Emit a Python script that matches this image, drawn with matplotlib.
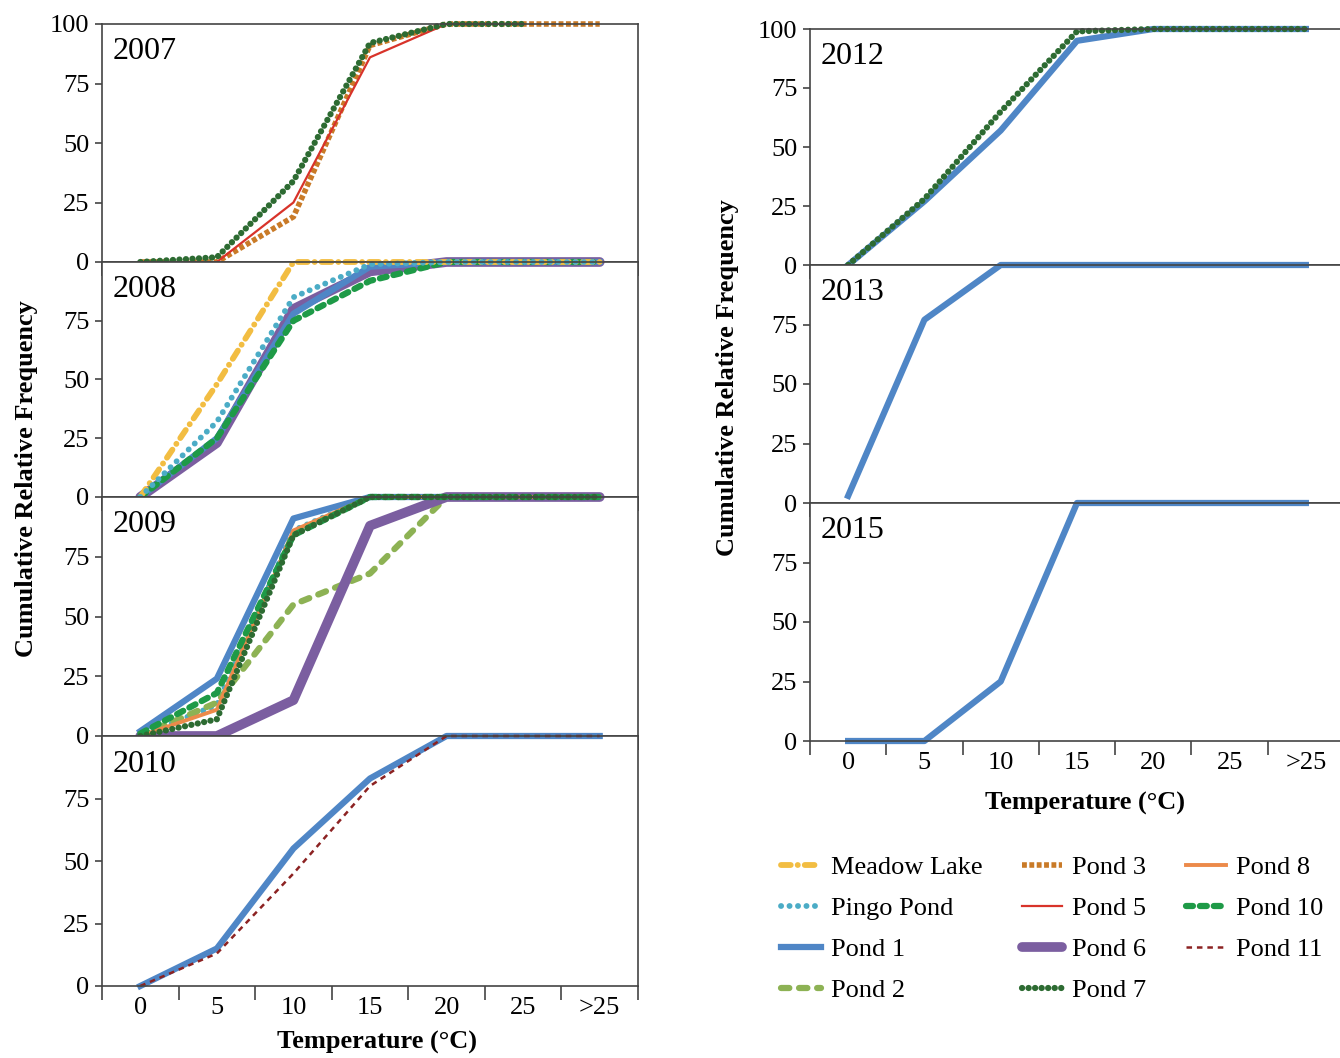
import numpy as np
import matplotlib
matplotlib.use("Agg")
import matplotlib.pyplot as plt

plt.rcParams['font.family'] = ['Liberation Serif', 'DejaVu Serif']
plt.rcParams['lines.scale_dashes'] = False

# temperature classes
temps = ['0', '5', '10', '15', '20', '25', '>25']
nan = np.nan

# cumulative relative frequency (%) per year and water body
y2007_pond3 = [0, 0, 19, 91, 100, 100, 100]
y2007_pond5 = [0, 0, 25, 86, 100, 100, nan]
y2007_pond7 = [0, 2, 34, 92, 100, 100, nan]

y2008_meadow = [0, 48, 100, 100, 100, 100, 100]
y2008_pingo = [0, 32, 85, 99, 100, 100, 100]
y2008_pond1 = [0, 25, 78, 98, 100, 100, 100]
y2008_pond6 = [0, 23, 80, 96, 100, 100, 100]
y2008_pond10 = [0, 25, 75, 92, 100, 100, 100]

y2009_pingo = [0, 13, 86, 100, 100, 100, 100]
y2009_pond1 = [2, 24, 91, 100, 100, 100, 100]
y2009_pond2 = [0, 14, 55, 68, 100, 100, 100]
y2009_pond6 = [0, 0, 15, 88, 100, 100, 100]
y2009_pond7 = [0, 7, 84, 100, 100, 100, 100]
y2009_pond8 = [0, 11, 86, 100, 100, 100, 100]
y2009_pond10 = [1, 18, 84, 100, 100, 100, 100]

y2010_pond1 = [0, 15, 55, 83, 100, 100, 100]
y2010_pond11 = [0, 13, 45, 80, 100, 100, 100]

y2012_pond1 = [0, 27, 57, 95, 100, 100, 100]
y2012_pond7 = [0, 28, 65, 99, 100, 100, 100]

y2013_pond1 = [3, 77, 100, 100, 100, 100, 100]

y2015_pond1 = [0, 0, 25, 100, 100, 100, 100]

# line style for each water body
styles = {
    'Meadow Lake': dict(color='#F2BD42', lw=4.2, dashes=(7, 5, 0.1, 5), dash_capstyle='round'),
    'Pingo Pond': dict(color='#4BACC6', lw=4.2, dashes=(0.1, 6), dash_capstyle='round'),
    'Pond 1': dict(color='#4F86C6', lw=4.5, ls='-'),
    'Pond 2': dict(color='#8DB254', lw=4.5, dashes=(6, 7), dash_capstyle='round'),
    'Pond 3': dict(color='#C97A27', lw=4.0, dashes=(3.5, 1.8)),
    'Pond 5': dict(color='#D8332A', lw=1.6, ls='-'),
    'Pond 6': dict(color='#7B5EA0', lw=7, ls='-', solid_capstyle='round'),
    'Pond 7': dict(color='#2D6B32', lw=4.5, dashes=(0.1, 4.6), dash_capstyle='round'),
    'Pond 8': dict(color='#EC8A4A', lw=2.8, ls='-'),
    'Pond 10': dict(color='#1E9A47', lw=4.5, dashes=(5, 5), dash_capstyle='round'),
    'Pond 11': dict(color='#8C2222', lw=1.8, dashes=(4, 3.5)),
}

# series per panel, in drawing order (last one on top)
panels_left = [
    ('2007', [('Pond 3', y2007_pond3), ('Pond 5', y2007_pond5), ('Pond 7', y2007_pond7)]),
    ('2008', [('Pond 6', y2008_pond6), ('Pond 1', y2008_pond1), ('Pond 10', y2008_pond10),
              ('Meadow Lake', y2008_meadow), ('Pingo Pond', y2008_pingo)]),
    ('2009', [('Pingo Pond', y2009_pingo), ('Pond 1', y2009_pond1), ('Pond 2', y2009_pond2),
              ('Pond 6', y2009_pond6), ('Pond 8', y2009_pond8), ('Pond 10', y2009_pond10),
              ('Pond 7', y2009_pond7)]),
    ('2010', [('Pond 1', y2010_pond1), ('Pond 11', y2010_pond11)]),
]
panels_right = [
    ('2012', [('Pond 1', y2012_pond1), ('Pond 7', y2012_pond7)]),
    ('2013', [('Pond 1', y2013_pond1)]),
    ('2015', [('Pond 1', y2015_pond1)]),
]

W, H = 1340, 1058
fig = plt.figure(figsize=(W / 100, H / 100), dpi=100)


def px_axes(left, top, right, bottom):
    return fig.add_axes([left / W, 1 - bottom / H, (right - left) / W, (bottom - top) / H])


def draw_panel(ax, year, series, first, last):
    x = np.arange(len(temps))
    for name, vals in series:
        ax.plot(x, vals, clip_on=False, **styles[name])
    ax.set_xlim(-0.5, len(temps) - 0.5)
    ax.set_ylim(0, 100)
    ax.set_yticks([0, 25, 50, 75, 100] if first else [0, 25, 50, 75])
    ax.tick_params(axis='y', direction='out', length=5, width=1.2, pad=4, labelsize=19, color='#444444')
    ax.set_xticks(np.arange(len(temps) + 1) - 0.5)
    ax.set_xticklabels([])
    ax.tick_params(axis='x', which='major', direction='out', length=10, width=1.2, color='#444444')
    ax.set_xticks(x, minor=True)
    if last:
        ax.set_xticklabels(temps, minor=True)
    ax.tick_params(axis='x', which='minor', length=0, pad=8, labelsize=19)
    for sp in ax.spines.values():
        sp.set_color('#444444')
        sp.set_linewidth(1.2)
    ax.text(0.02, 0.885, year, transform=ax.transAxes, fontsize=23, va='center', ha='left')


# left column 2007-2010
left_rows = [(24, 262), (262, 497), (497, 736), (736, 986)]
for i, ((year, series), (top, bottom)) in enumerate(zip(panels_left, left_rows)):
    ax = px_axes(102, top, 638, bottom)
    draw_panel(ax, year, series, i == 0, i == len(panels_left) - 1)

# right column 2012-2015
right_rows = [(29, 265), (265, 503), (503, 741)]
for i, ((year, series), (top, bottom)) in enumerate(zip(panels_right, right_rows)):
    ax = px_axes(810, top, 1344, bottom)
    draw_panel(ax, year, series, i == 0, i == len(panels_right) - 1)

lab = dict(fontsize=19, fontweight='bold')
fig.text(27 / W, 1 - 479 / H, 'Cumulative Relative Frequency', rotation=90, ha='center', va='center', **lab)
fig.text(728 / W, 1 - 378 / H, 'Cumulative Relative Frequency', rotation=90, ha='center', va='center', **lab)
fig.text(377 / W, 1 - 1042 / H, 'Temperature (°C)', ha='center', va='center', **lab)
fig.text(1085 / W, 1 - 803 / H, 'Temperature (°C)', ha='center', va='center', **lab)

# legend of all water bodies
names = list(styles.keys())
handles = [plt.Line2D([], [], **styles[n]) for n in names]
fig.legend(handles, names, loc='upper left', bbox_to_anchor=(781 / W, 1 - 856 / H),
           ncol=3, frameon=False, fontsize=19, handlelength=1.5, handletextpad=0.4,
           columnspacing=1.5, labelspacing=0.66, borderpad=0, borderaxespad=0)

fig.savefig('out.png', dpi=100)
